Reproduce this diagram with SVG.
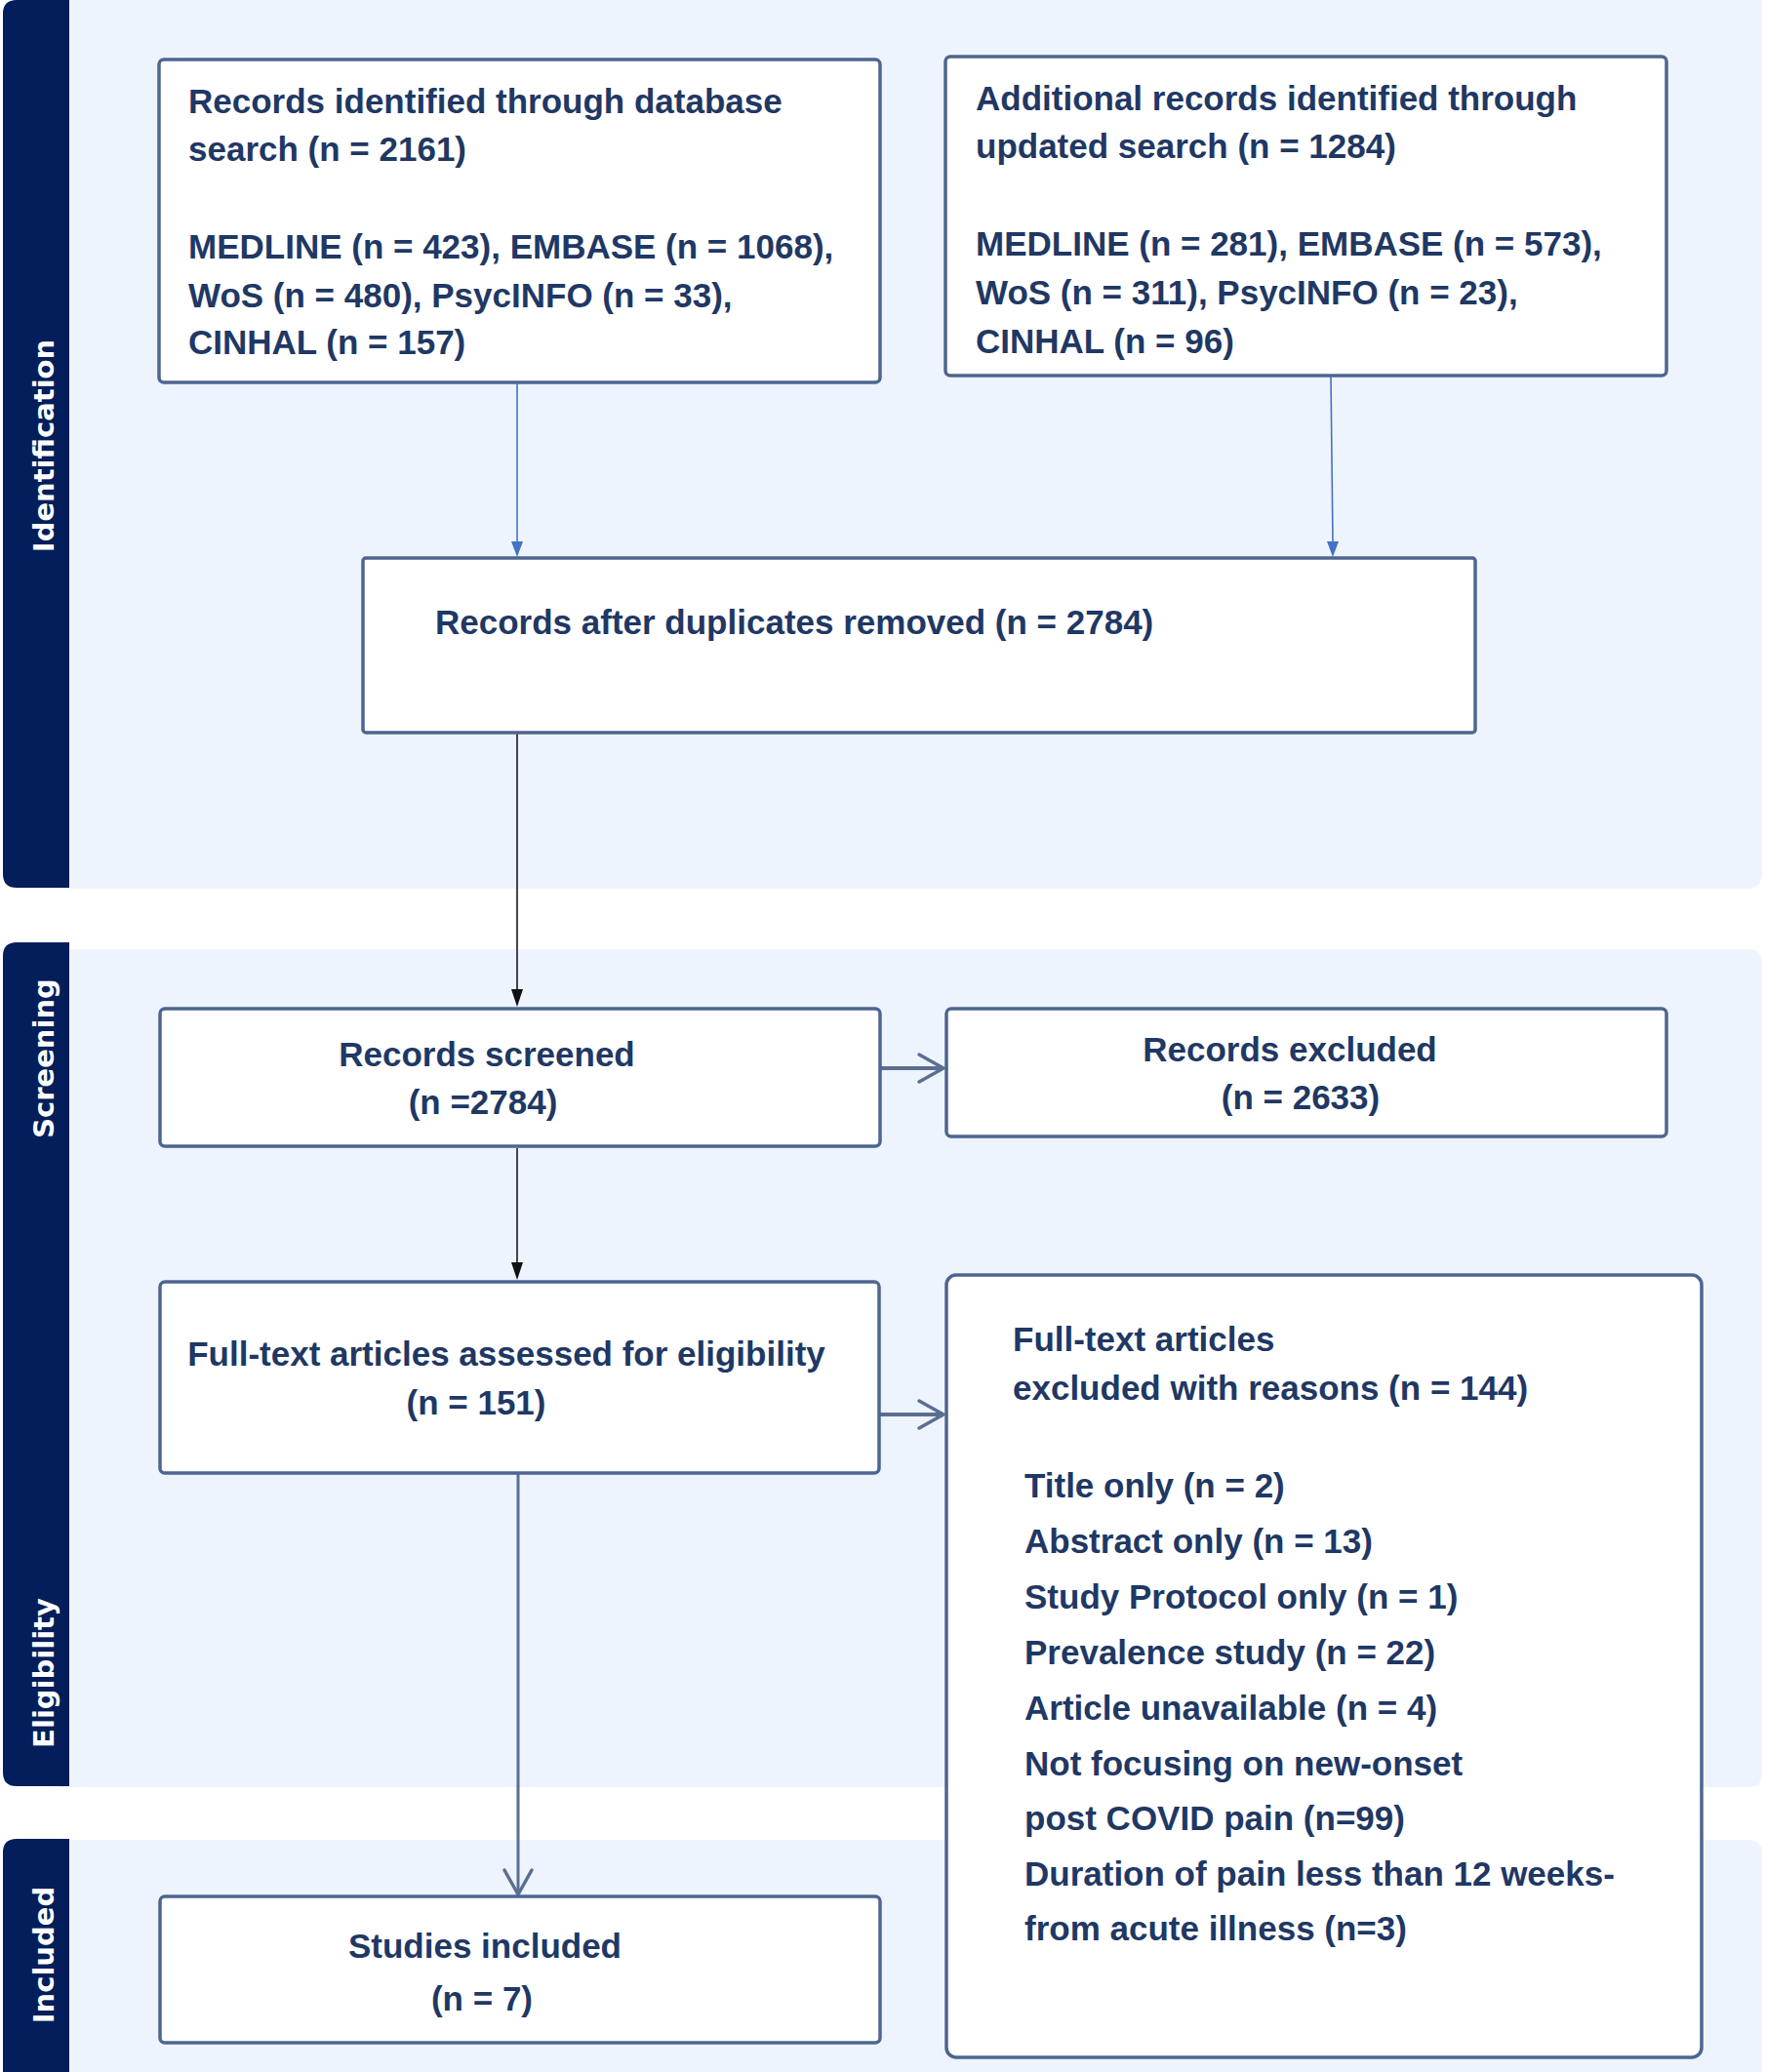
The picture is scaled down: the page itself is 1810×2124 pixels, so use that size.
<svg xmlns="http://www.w3.org/2000/svg" width="1810" height="2124" viewBox="0 0 1810 2124">
<style>
.panel{fill:#EEF4FD}
.side{fill:#031E5A}
.stxt{font-family:"DejaVu Sans",Verdana,sans-serif;font-weight:bold;font-size:29px;fill:#FFFFFF}
.box{fill:#FFFFFF;stroke:#4D6590;stroke-width:3.5}
.t{font-family:"Liberation Sans",Arial,sans-serif;font-weight:bold;font-size:35px;fill:#1F3864}
.c{text-anchor:middle}
.blue{stroke:#4472C4;stroke-width:1.6;fill:none}
.blk{stroke:#1A1A1A;stroke-width:1.6;fill:none}
.gb{stroke:#5A6E92;stroke-width:4;fill:none}
.chev{stroke:#5A6E92;stroke-width:3.5;fill:none;stroke-linecap:round;stroke-linejoin:round}
</style>
<defs>
<marker id="ab" markerWidth="12" markerHeight="16" refX="6" refY="16" orient="auto-start-reverse" markerUnits="userSpaceOnUse" viewBox="0 0 12 16"><path d="M0,0 L12,0 L6,16 Z" fill="#4472C4" transform="rotate(0)"/></marker>
</defs>
<g id="panels">
<path class="panel" d="M60,0 H1806 V895 Q1806,911 1790,911 H60 Z"/>
<path class="side" d="M3,14 Q3,0 17,0 H71 V910 H17 Q3,910 3,896 Z"/>
<path class="panel" d="M60,973 H1792 Q1806,973 1806,987 V1818 Q1806,1832 1792,1832 H60 Z"/>
<path class="side" d="M3,980 Q3,966 17,966 H71 V1831 H17 Q3,1831 3,1817 Z"/>
<path class="panel" d="M60,1886 H1792 Q1806,1886 1806,1900 V2124 H60 Z"/>
<path class="side" d="M3,1899 Q3,1885 17,1885 H71 V2124 H3 Z"/>
<text class="stxt c" transform="translate(55,457) rotate(-90)">Identification</text>
<text class="stxt c" transform="translate(55,1085) rotate(-90)">Screening</text>
<text class="stxt c" transform="translate(55,1715) rotate(-90)">Eligibility</text>
<text class="stxt c" transform="translate(55,2004) rotate(-90)">Included</text>
</g>
<g id="connectors">
<line class="blue" x1="530" y1="393" x2="530" y2="556"/>
<path d="M524,555 L536,555 L530,571 Z" fill="#4472C4"/>
<line class="blue" x1="1364" y1="386" x2="1366" y2="556"/>
<path d="M1360,555 L1372,555 L1366,571 Z" fill="#4472C4"/>
<line class="blk" x1="530" y1="752" x2="530" y2="1016"/>
<path d="M524,1014 L536,1014 L530,1032 Z" fill="#111"/>
<line class="blk" x1="530" y1="1177" x2="530" y2="1296"/>
<path d="M524,1294 L536,1294 L530,1312 Z" fill="#111"/>
<line class="gb" x1="902" y1="1095" x2="966" y2="1095"/>
<polyline class="chev" points="942,1081 967,1095 942,1109"/>
<line class="gb" x1="902" y1="1450" x2="966" y2="1450"/>
<polyline class="chev" points="942,1436 967,1450 942,1464"/>
<line class="gb" x1="531" y1="1511" x2="531" y2="1941" style="stroke-width:3"/>
<polyline class="chev" points="517,1917 531,1942 545,1917"/>
</g>
<g id="n1">
<rect class="box" x="163" y="61" width="739" height="331" rx="5"/>
<text class="t" x="193" y="116">Records identified through database</text>
<text class="t" x="193" y="165">search (n = 2161)</text>
<text class="t" x="193" y="265">MEDLINE (n = 423), EMBASE (n = 1068),</text>
<text class="t" x="193" y="315">WoS (n = 480), PsycINFO (n = 33),</text>
<text class="t" x="193" y="363">CINHAL (n = 157)</text>
</g>
<g id="n2">
<rect class="box" x="969" y="58" width="739" height="327" rx="5"/>
<text class="t" x="1000" y="113">Additional records identified through</text>
<text class="t" x="1000" y="162">updated search (n = 1284)</text>
<text class="t" x="1000" y="262">MEDLINE (n = 281), EMBASE (n = 573),</text>
<text class="t" x="1000" y="312">WoS (n = 311), PsycINFO (n = 23),</text>
<text class="t" x="1000" y="362">CINHAL (n = 96)</text>
</g>
<g id="n3">
<rect class="box" x="372" y="572" width="1140" height="179" rx="3"/>
<text class="t" x="446" y="650">Records after duplicates removed (n = 2784)</text>
</g>
<g id="n4">
<rect class="box" x="164" y="1034" width="738" height="141" rx="5"/>
<text class="t c" x="499" y="1093">Records screened</text>
<text class="t c" x="495" y="1142">(n =2784)</text>
</g>
<g id="n5">
<rect class="box" x="970" y="1034" width="738" height="131" rx="5"/>
<text class="t c" x="1322" y="1088">Records excluded</text>
<text class="t c" x="1333" y="1137">(n = 2633)</text>
</g>
<g id="n6">
<rect class="box" x="164" y="1314" width="737" height="196" rx="5"/>
<text class="t c" x="519" y="1400">Full-text articles assessed for eligibility</text>
<text class="t c" x="488" y="1450">(n = 151)</text>
</g>
<g id="n7">
<rect class="box" x="970" y="1307" width="774" height="802" rx="10"/>
<text class="t" x="1038" y="1385">Full-text articles</text>
<text class="t" x="1038" y="1435">excluded with reasons (n = 144)</text>
<text class="t" x="1050" y="1535">Title only (n = 2)</text>
<text class="t" x="1050" y="1592">Abstract only (n = 13)</text>
<text class="t" x="1050" y="1649">Study Protocol only (n = 1)</text>
<text class="t" x="1050" y="1706">Prevalence study (n = 22)</text>
<text class="t" x="1050" y="1763">Article unavailable (n = 4)</text>
<text class="t" x="1050" y="1820">Not focusing on new-onset</text>
<text class="t" x="1050" y="1876">post COVID pain (n=99)</text>
<text class="t" x="1050" y="1933">Duration of pain less than 12 weeks-</text>
<text class="t" x="1050" y="1989">from acute illness (n=3)</text>
</g>
<g id="n8">
<rect class="box" x="164" y="1944" width="738" height="150" rx="5"/>
<text class="t c" x="497" y="2007">Studies included</text>
<text class="t c" x="494" y="2061">(n = 7)</text>
</g>
</svg>
